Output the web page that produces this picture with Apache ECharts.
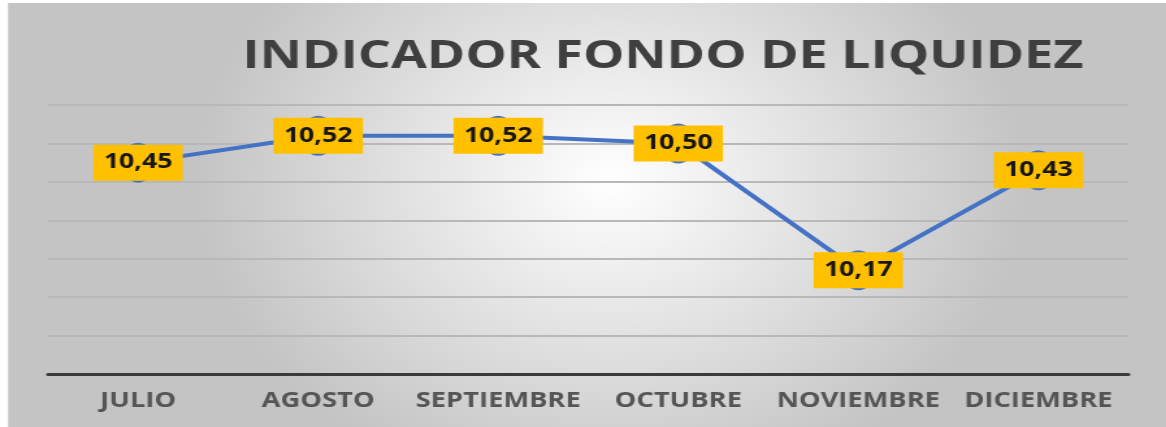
<!DOCTYPE html>
<html>
<head>
<meta charset="utf-8">
<script src="https://cdn.jsdelivr.net/npm/echarts@6/dist/echarts.min.js"></script>
<style>
  html, body { margin: 0; padding: 0; background: #ffffff; overflow: hidden; }
  /* la imagen original está estirada en horizontal: se dibuja estrecha y se estira */
  #chart { width: 897px; height: 427px; transform: scaleX(1.3); transform-origin: 0 0; }
</style>
</head>
<body>
<div id="chart"></div>
<script>
// datos del indicador
var meses = ['JULIO', 'AGOSTO', 'SEPTIEMBRE', 'OCTUBRE', 'NOVIEMBRE', 'DICIEMBRE'];
var valores = [10.45, 10.52, 10.52, 10.50, 10.17, 10.43];
var yMin = 9.9;
var yMax = 10.6;
var yStep = 0.1;

var chart = echarts.init(document.getElementById('chart'));

var option = {
    animation: false,
    graphic: [{
        type: 'rect',
        z: -10,
        shape: { x: 6.2, y: 3, width: 891, height: 424 },
        style: {
            fill: {
                type: 'radial',
                x: 0.52, y: 0.42, r: 0.75,
                colorStops: [
                    { offset: 0, color: '#ffffff' },
                    { offset: 1, color: '#c4c4c4' }
                ]
            }
        }
    }],
    title: {
        text: 'INDICADOR FONDO DE LIQUIDEZ',
        left: 505,
        top: 52,
        textAlign: 'center',
        textVerticalAlign: 'middle',
        textStyle: {
            fontFamily: 'Open Sans',
            fontWeight: 'bold',
            fontSize: 40,
            color: '#3f3f3f'
        }
    },
    grid: {
        left: 37,
        right: 29,
        top: 105,
        bottom: 53
    },
    xAxis: {
        type: 'category',
        data: meses,
        boundaryGap: true,
        axisTick: { show: false },
        axisLine: { lineStyle: { color: '#3a3a3a', width: 3 } },
        axisLabel: {
            interval: 0,
            margin: 17,
            fontFamily: 'Open Sans',
            fontWeight: 'bold',
            fontSize: 21,
            color: '#555555'
        }
    },
    yAxis: {
        type: 'value',
        min: yMin,
        max: yMax,
        interval: yStep,
        axisLine: { show: false },
        axisTick: { show: false },
        axisLabel: { show: false },
        splitLine: { lineStyle: { color: '#b8b8b8', width: 2 } }
    },
    series: [{
        type: 'line',
        data: valores,
        symbol: 'circle',
        symbolSize: [26, 40],
        itemStyle: { color: '#4472c4' },
        lineStyle: { color: '#4472c4', width: 4 },
        label: {
            show: true,
            position: 'inside',
            formatter: function (p) {
                return p.value.toFixed(2).replace('.', ',');
            },
            fontFamily: 'Open Sans',
            fontWeight: 'bold',
            fontSize: 20.5,
            color: '#151515',
            backgroundColor: '#ffc000',
            padding: [8, 8, 7, 8]
        }
    }]
};

chart.setOption(option);
</script>
</body>
</html>
